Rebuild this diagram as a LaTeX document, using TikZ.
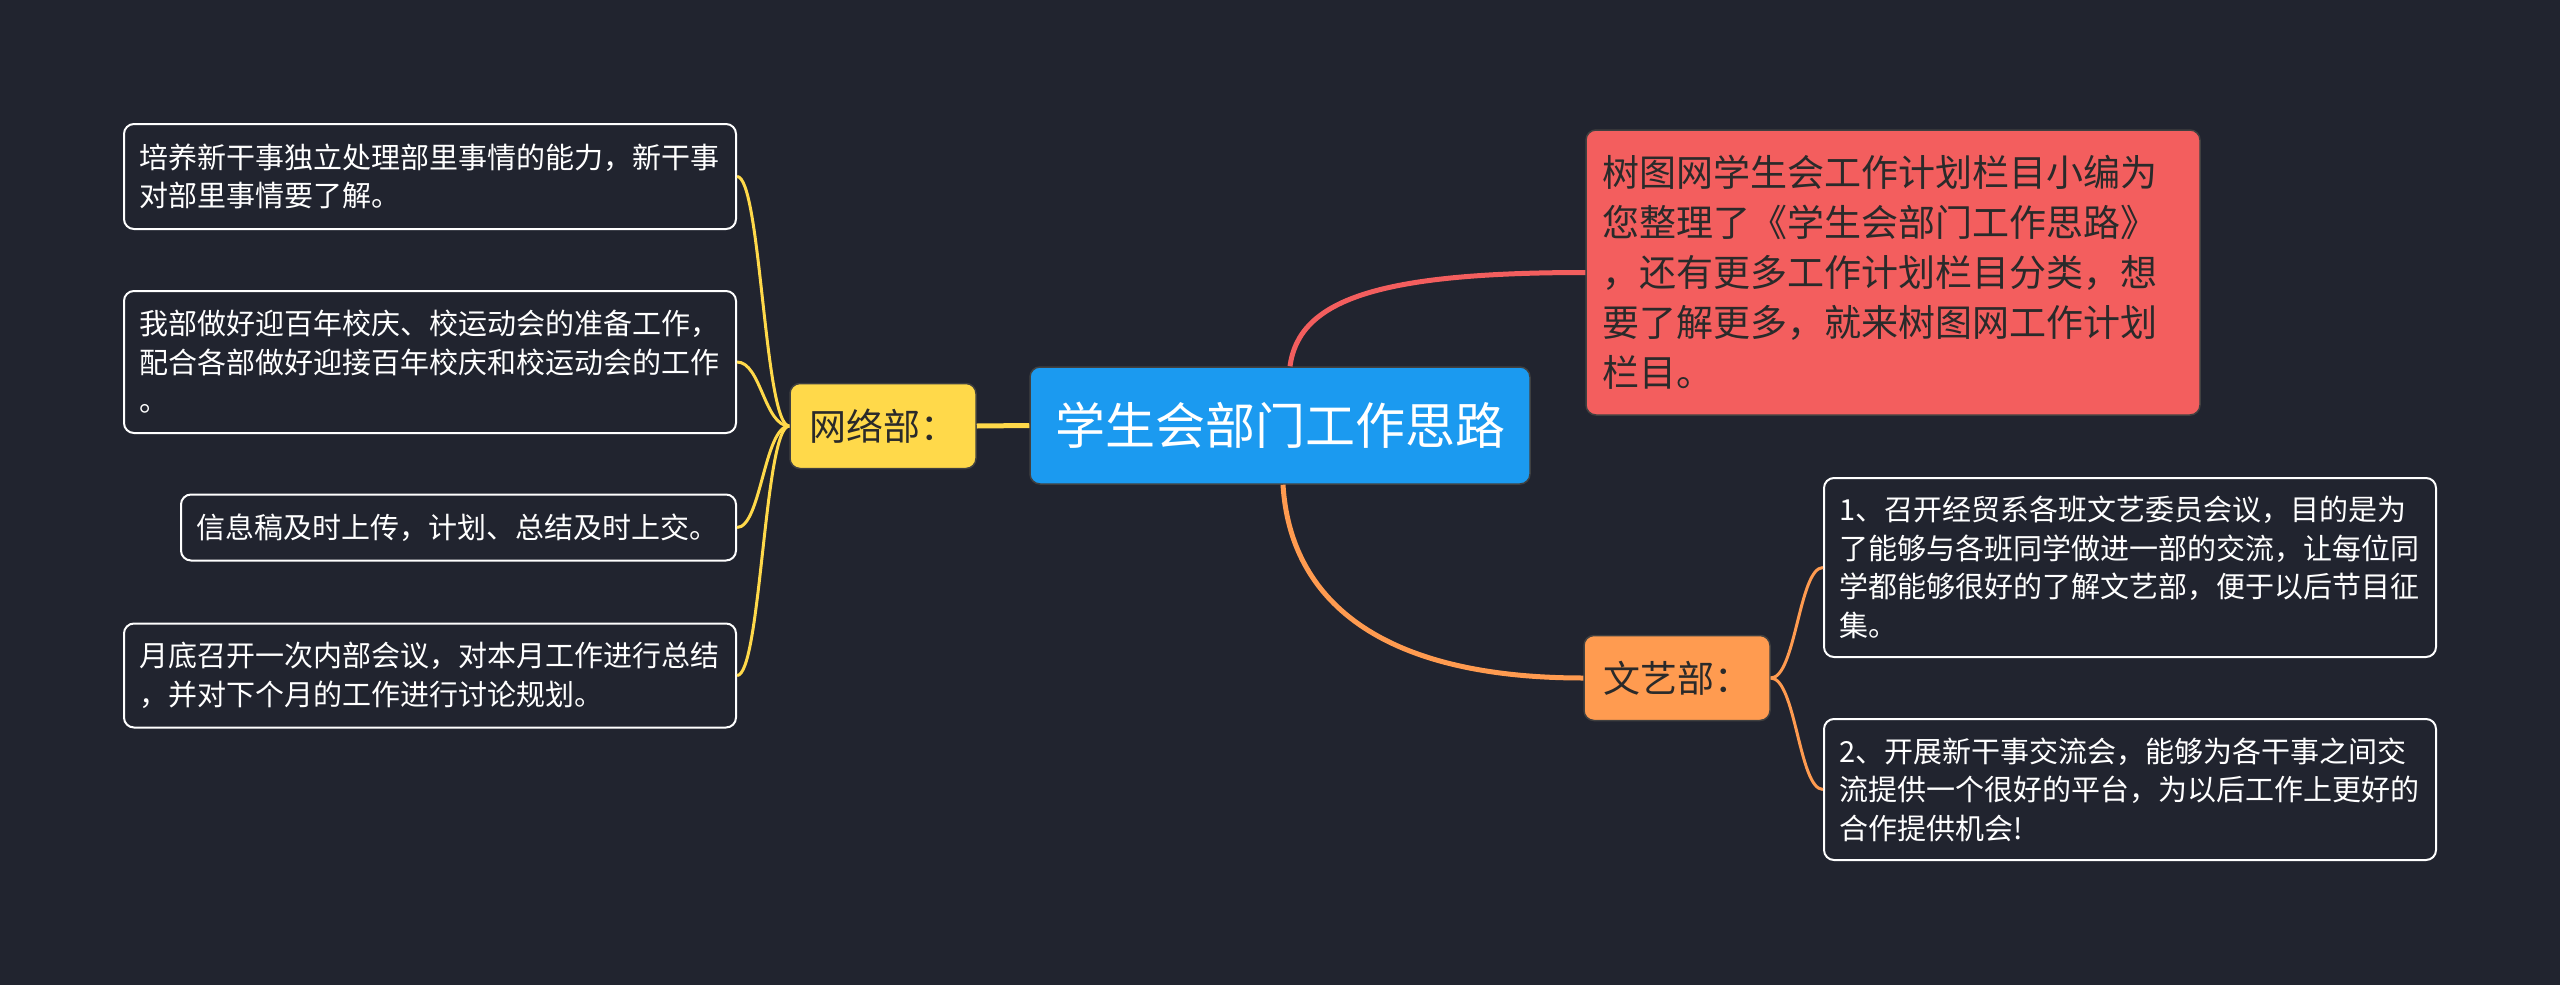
\documentclass[tikz,border=0pt]{standalone}
\usepackage{fontspec}
\newfontfamily\cjk{Noto Sans CJK SC}
\definecolor{bg}{HTML}{21242F}
\definecolor{cblue}{HTML}{1B9AF0}
\definecolor{cyellow}{HTML}{FFD94A}
\definecolor{corange}{HTML}{FF9B50}
\definecolor{cred}{HTML}{F35E5E}
\definecolor{darktext}{HTML}{2A2A2A}
\tikzset{
  leaf/.style={draw=white, line width=2pt, fill=bg, rounded corners=10pt, text=white,
    font=\cjk\fontsize{29}{38.5}\selectfont, align=left, inner ysep=0pt},
  colnode/.style={draw=black!75, line width=1.5pt, rounded corners=10pt, inner sep=0pt},
  mainline/.style={line width=5pt},
  subline/.style={line width=3pt},
}
\begin{document}
\begin{tikzpicture}[x=1pt,y=-1pt]
\fill[bg] (0,0) rectangle (2560,985);
\useasboundingbox (0,0) rectangle (2560,985);

% central
\node[colnode, fill=cblue, text=white, minimum width=500pt, minimum height=117pt,
  font=\cjk\fontsize{50}{60}\selectfont] (root) at (1280,425.5) {学生会部门工作思路};

% level 1
\node[colnode, fill=cyellow, text=darktext, minimum width=186pt, minimum height=85pt,
  font=\cjk\fontsize{37}{44}\selectfont] (net) at (883,426) {网络部：};
\node[colnode, fill=corange, text=darktext, minimum width=186pt, minimum height=85pt,
  font=\cjk\fontsize{37}{44}\selectfont] (art) at (1677,678) {文艺部：};
\node[colnode, fill=cred, text=darktext, minimum width=614pt, minimum height=285pt,
  text width=582pt, align=left, inner xsep=16pt,
  font=\cjk\fontsize{37}{50}\selectfont] (info) at (1893,272.5)
  {树图网学生会工作计划栏目小编为\\您整理了《学生会部门工作思路》\\，还有更多工作计划栏目分类，想\\要了解更多，就来树图网工作计划\\栏目。};

% left leaves
\node[leaf, minimum width=612pt, minimum height=105pt, text width=582pt, inner xsep=15pt] (l1) at (430,176.5)
  {培养新干事独立处理部里事情的能力，新干事\\对部里事情要了解。};
\node[leaf, minimum width=612pt, minimum height=142pt, text width=582pt, inner xsep=15pt] (l2) at (430,362)
  {我部做好迎百年校庆、校运动会的准备工作，\\配合各部做好迎接百年校庆和校运动会的工作\\。};
\node[leaf, minimum width=555pt, minimum height=66pt, text width=525pt, inner xsep=15pt] (l3) at (458.5,527.5)
  {信息稿及时上传，计划、总结及时上交。};
\node[leaf, minimum width=612pt, minimum height=104pt, text width=582pt, inner xsep=15pt] (l4) at (430,675.5)
  {月底召开一次内部会议，对本月工作进行总结\\，并对下个月的工作进行讨论规划。};

% right leaves
\node[leaf, minimum width=612pt, minimum height=179pt, text width=582pt, inner xsep=15pt] (r1) at (2130,567.5)
  {1、召开经贸系各班文艺委员会议，目的是为\\了能够与各班同学做进一部的交流，让每位同\\学都能够很好的了解文艺部，便于以后节目征\\集。};
\node[leaf, minimum width=612pt, minimum height=141pt, text width=582pt, inner xsep=15pt] (r2) at (2130,789.5)
  {2、开展新干事交流会，能够为各干事之间交\\流提供一个很好的平台，为以后工作上更好的\\合作提供机会!};

% connectors
\draw[mainline, cyellow] (net.east) -- (root.west);
\draw[mainline, cred] ([xshift=10pt]root.north) .. controls +(9,-67) and +(-206,0) .. (info.west);
\draw[mainline, corange] ([xshift=3pt]root.south) .. controls +(7,115) and +(-204,0) .. (art.west);

\foreach \t in {l1,l2,l3,l4}{
  \draw[subline, cyellow] (net.west) .. controls +(-25,0) and +(24,0) .. (\t.east);
}
\foreach \t in {r1,r2}{
  \draw[subline, corange] (art.east) .. controls +(25,0) and +(-24,0) .. (\t.west);
}
\end{tikzpicture}
\end{document}
